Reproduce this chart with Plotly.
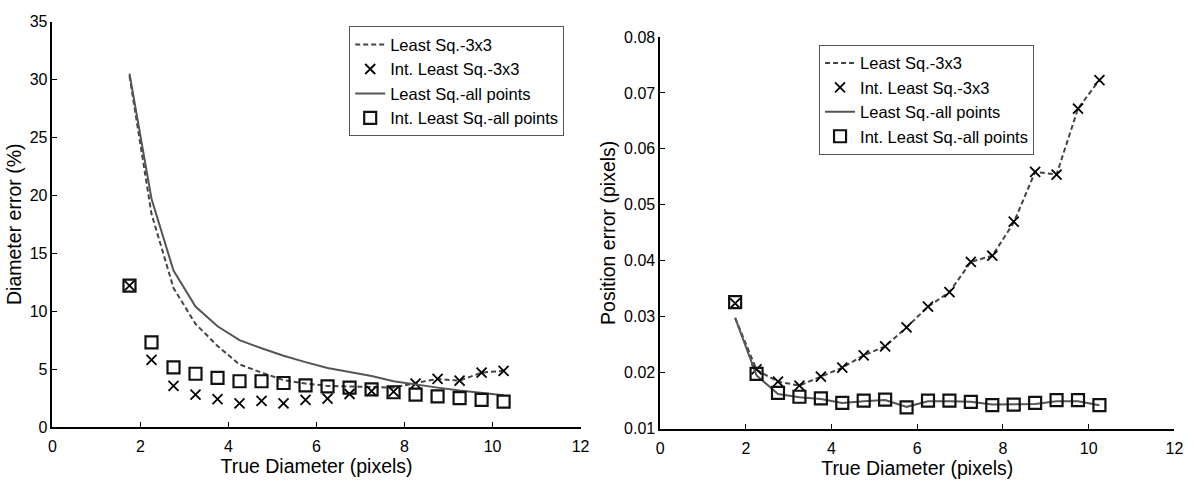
import plotly.graph_objects as go

# ---- data ----
true_diameter = [1.75, 2.25, 2.75, 3.25, 3.75, 4.25, 4.75, 5.25, 5.75,
                 6.25, 6.75, 7.25, 7.75, 8.25, 8.75, 9.25, 9.75, 10.25]

# Left panel: diameter error (%)
diam_ls_3x3 = [30.3, 18.4, 12.0, 8.9, 7.0, 5.4, 4.7, 4.05, 3.75,
               3.55, 3.5, 3.45, 3.4, 3.8, 4.15, 4.0, 4.7, 4.85]
diam_int_ls_3x3 = [12.2, 5.8, 3.55, 2.8, 2.4, 2.05, 2.25, 2.05, 2.35,
                   2.45, 2.85, 3.1, 3.05, 3.75, 4.15, 4.0, 4.7, 4.85]
diam_ls_all = [30.5, 19.7, 13.5, 10.4, 8.7, 7.5, 6.8, 6.15, 5.6,
               5.1, 4.75, 4.4, 3.95, 3.65, 3.4, 3.15, 2.95, 2.75]
diam_int_ls_all = [12.2, 7.3, 5.15, 4.6, 4.25, 3.95, 3.95, 3.8, 3.6,
                   3.5, 3.4, 3.25, 3.0, 2.8, 2.65, 2.5, 2.35, 2.2]

# Right panel: position error (pixels)
pos_ls_3x3 = [0.0298, 0.0205, 0.0184, 0.0177, 0.0193, 0.0209, 0.0231, 0.0247, 0.0281,
              0.0318, 0.0344, 0.0398, 0.0409, 0.0468, 0.0559, 0.0554, 0.0672, 0.0723]
pos_int_ls_3x3 = [0.0324, 0.0206, 0.0184, 0.0177, 0.0193, 0.0209, 0.0231, 0.0247, 0.0281,
                  0.0318, 0.0344, 0.0398, 0.0409, 0.0470, 0.0559, 0.0554, 0.0672, 0.0723]
pos_ls_all = [0.0298, 0.0195, 0.0162, 0.0156, 0.0153, 0.0146, 0.0149, 0.0151, 0.0139,
              0.0149, 0.0149, 0.0148, 0.0143, 0.0143, 0.0144, 0.0149, 0.0149, 0.0142]
pos_int_ls_all = [0.0326, 0.0198, 0.0164, 0.0157, 0.0154, 0.0146, 0.0150, 0.0152, 0.0138,
                  0.0150, 0.0150, 0.0148, 0.0142, 0.0143, 0.0146, 0.0151, 0.0151, 0.0142]

names = ["Least Sq.-3x3", "Int. Least Sq.-3x3",
         "Least Sq.-all points", "Int. Least Sq.-all points"]

FONT = "Liberation Sans, Arial, Helvetica, sans-serif"
DASH_COLOR = "#444444"
SOLID_COLOR = "#555555"

fig = go.Figure()


def add_panel(xa, ya, leg, s_ls3, s_int3, s_lsall, s_intall):
    fig.add_trace(go.Scatter(x=true_diameter, y=s_ls3, mode="lines", name=names[0],
                             line=dict(color=DASH_COLOR, width=2, dash="5px,3px"),
                             xaxis=xa, yaxis=ya, legend=leg))
    fig.add_trace(go.Scatter(x=true_diameter, y=s_int3, mode="markers", name=names[1],
                             marker=dict(symbol="x-thin-open", size=10, color="black",
                                         line=dict(color="#111111", width=1.8)),
                             xaxis=xa, yaxis=ya, legend=leg))
    fig.add_trace(go.Scatter(x=true_diameter, y=s_lsall, mode="lines", name=names[2],
                             line=dict(color=SOLID_COLOR, width=2),
                             xaxis=xa, yaxis=ya, legend=leg))
    fig.add_trace(go.Scatter(x=true_diameter, y=s_intall, mode="markers", name=names[3],
                             marker=dict(symbol="square-open", size=12, color="#111111",
                                         line=dict(color="#111111", width=2.2)),
                             xaxis=xa, yaxis=ya, legend=leg))


add_panel("x", "y", "legend", diam_ls_3x3, diam_int_ls_3x3, diam_ls_all, diam_int_ls_all)
add_panel("x2", "y2", "legend2", pos_ls_3x3, pos_int_ls_3x3, pos_ls_all, pos_int_ls_all)

axis_common = dict(showline=True, linecolor="black", linewidth=1.5, mirror=False,
                   ticks="inside", ticklen=5, tickwidth=1.2, tickcolor="black",
                   showgrid=False, zeroline=False,
                   tickfont=dict(family=FONT, size=16, color="black"))

title_font = dict(family=FONT, size=19.5, color="black")

legend_common = dict(bgcolor="white", bordercolor="#555555", borderwidth=1,
                     font=dict(family=FONT, size=16.5, color="black"),
                     xanchor="left", yanchor="top", tracegroupgap=0, itemwidth=30)

fig.update_layout(
    width=1198, height=483,
    margin=dict(l=0, r=0, t=0, b=0),
    paper_bgcolor="white", plot_bgcolor="white",
    font=dict(family=FONT, color="black"),
    xaxis=dict(domain=[0.0409, 0.4866], range=[0, 12], dtick=2, anchor="y",
               ticklabelstandoff=4,
               title=dict(text="True Diameter (pixels)", font=title_font, standoff=4),
               **axis_common),
    yaxis=dict(domain=[0.1008, 0.971], range=[0, 35], dtick=5, anchor="x",
               title=dict(text="Diameter error (%)", font=title_font, standoff=3),
               **axis_common),
    xaxis2=dict(domain=[0.5537, 0.9877], range=[0, 12], dtick=2, anchor="y2",
                ticklabelstandoff=4,
                title=dict(text="True Diameter (pixels)", font=title_font, standoff=4),
                **axis_common),
    yaxis2=dict(domain=[0.0973, 0.9379], range=[0.01, 0.08], dtick=0.01,
                tickformat=".2f", anchor="x2",
                title=dict(text="Position error (pixels)", font=title_font, standoff=3),
                **axis_common),
    legend=dict(x=0.2913, y=0.9607, **legend_common),
    legend2=dict(x=0.6878, y=0.9213, **legend_common),
)

fig.write_html("out.html")
